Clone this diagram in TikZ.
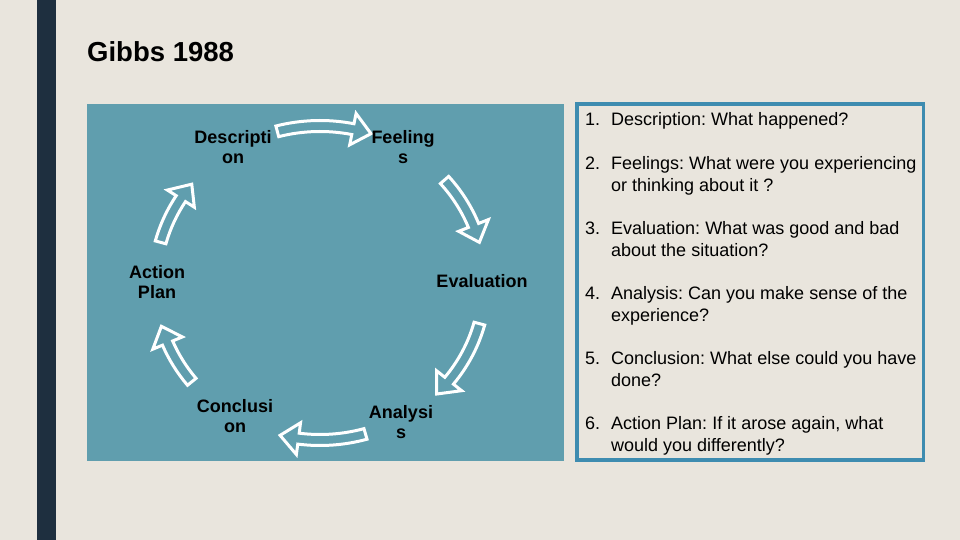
\documentclass[tikz,border=0pt]{standalone}
\usepackage{fontspec}
\setmainfont{Liberation Sans}
\frenchspacing
\definecolor{bg}{HTML}{E9E5DD}
\definecolor{bar}{HTML}{1E2F3F}
\definecolor{panel}{HTML}{609EAE}
\definecolor{frame}{HTML}{3E8CB0}
\newcommand{\cyclearrow}[2]{%
  \pgfmathsetmacro{\hb}{#2+6.5}%
  \draw[cyc] (#1:170.5 and 162.5) arc[start angle=#1, end angle=\hb, x radius=170.5, y radius=162.5]
    -- (\hb:181 and 173) -- (#2:165 and 157) -- (\hb:149 and 141) -- (\hb:159.5 and 151.5)
    arc[start angle=\hb, end angle=#1, x radius=159.5, y radius=151.5] -- cycle;}
\newcommand{\listitem}[2]{\begin{tabular}[t]{@{}p{26pt}@{}l@{}}#1&#2\end{tabular}}
\begin{document}
\begin{tikzpicture}[x=1pt,y=1pt,
  lbl/.style={font=\bfseries\fontsize{18}{20}\selectfont, align=center, inner sep=0pt, text=black},
  item/.style={font=\fontsize{18}{22}\selectfont, anchor=base west, inner sep=0pt},
  cyc/.style={draw=white, line width=3pt, line join=miter, fill=panel}
]
\fill[bg] (0,0) rectangle (960,540);
\useasboundingbox (0,0) rectangle (960,540);
\fill[bar] (37,0) rectangle (56,540);
\node[anchor=base west, inner sep=0pt, font=\bfseries\fontsize{27.5}{30}\selectfont] (title) at (87,478) {Gibbs 1988};
% left panel
\fill[panel] (87,79) rectangle (564,436);
\coordinate (c) at (320,257);
\begin{scope}[shift={(c)}]
  \cyclearrow{105}{72}
  \cyclearrow{41}{15}
  \cyclearrow{-15}{-45}
  \cyclearrow{-74}{-104}
  \cyclearrow{219}{196}
  \cyclearrow{165}{141}
\end{scope}
\node[lbl] (desc) at (233,392.5) {Descripti\\on};
\node[lbl] (feel) at (403,392.5) {Feeling\\s};
\node[lbl] (eval) at (482,258.5) {Evaluation};
\node[lbl] (anal) at (401,118) {Analysi\\s};
\node[lbl] (conc) at (235,124) {Conclusi\\on};
\node[lbl] (act) at (157,258) {Action\\Plan};
% right box
\draw[frame, line width=3.5pt] (577,436) rectangle (923.5,80);
\node[item] (i1) at (585,414.5) {\listitem{1.}{Description: What happened?}};
\node[item] (i2) at (585,370.5) {\listitem{2.}{Feelings: What were you experiencing\\&or thinking about it ?}};
\node[item] (i3) at (585,305.5) {\listitem{3.}{Evaluation: What was good and bad\\&about the situation?}};
\node[item] (i4) at (585,240.5) {\listitem{4.}{Analysis: Can you make sense of the\\&experience?}};
\node[item] (i5) at (585,175.5) {\listitem{5.}{Conclusion: What else could you have\\&done?}};
\node[item] (i6) at (585,110.5) {\listitem{6.}{Action Plan: If it arose again, what\\&would you differently?}};
\end{tikzpicture}
\end{document}
